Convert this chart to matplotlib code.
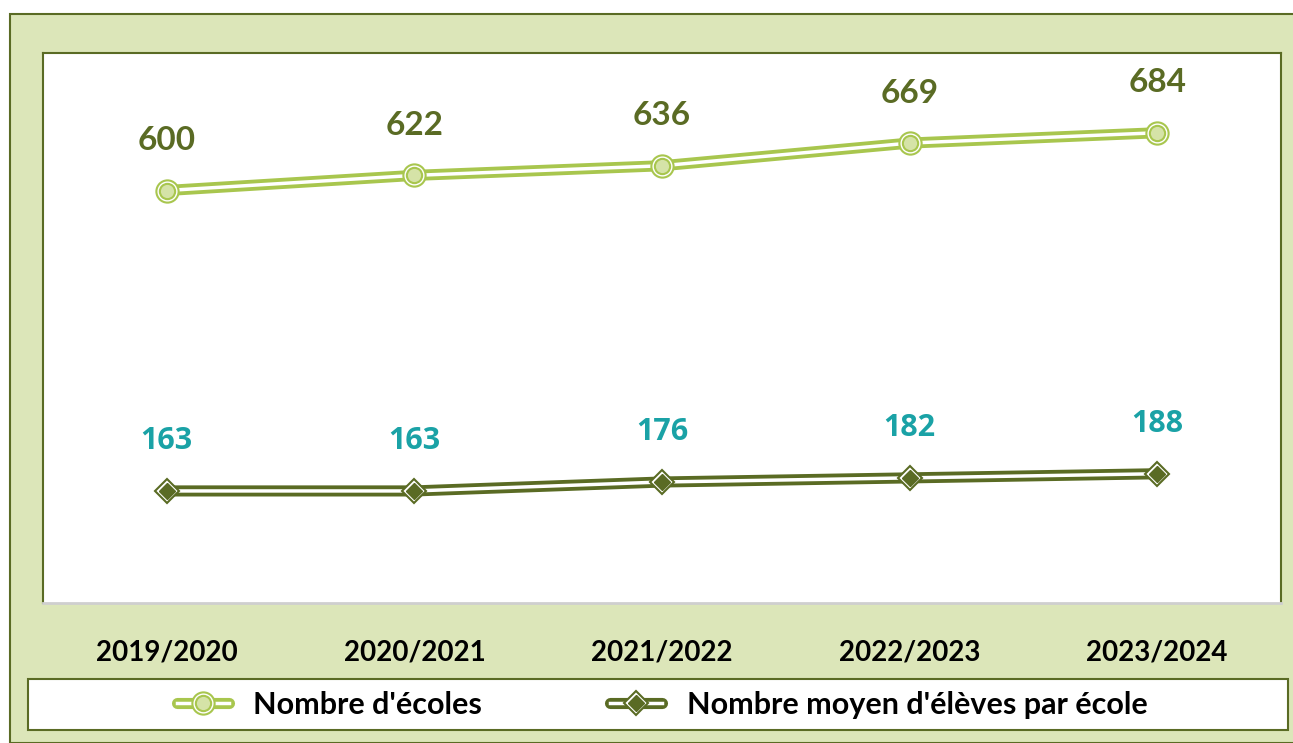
import matplotlib
matplotlib.use('Agg')
import matplotlib.pyplot as plt
from matplotlib.patches import Rectangle
from matplotlib.lines import Line2D

W, H = 1293, 743
OLIVE = '#5a6b24'
LIGHT = '#a8c64e'
LIGHT_FILL = '#d5e3a7'
PANEL = '#dce6b9'
TEAL = '#1aa2a6'

years = ['2019/2020', '2020/2021', '2021/2022', '2022/2023', '2023/2024']
nb_ecoles = [600, 622, 636, 669, 684]
nb_eleves = [163, 163, 176, 182, 188]
label_ecoles = "Nombre d'écoles"
label_eleves = "Nombre moyen d'élèves par école"

fig = plt.figure(figsize=(W / 100, H / 100), dpi=100)
fig.patch.set_facecolor('white')

# outer green panel
fig.patches.append(Rectangle((10 / W, 0), 1.0, 1 - 14 / H, transform=fig.transFigure,
                             facecolor=PANEL, edgecolor=OLIVE, lw=1.5, zorder=-3))
# legend box
fig.patches.append(Rectangle((28 / W, 1 - 730 / H), 1260 / W, 51 / H, transform=fig.transFigure,
                             facecolor='white', edgecolor=OLIVE, lw=1.5, zorder=-2))

ax = fig.add_axes([43 / W, 1 - 603 / H, 1238 / W, 550 / H])
ax.set_facecolor('white')
x = list(range(len(years)))

# double line for "Nombre d'écoles"
ax.plot(x, nb_ecoles, color=LIGHT, lw=8, solid_capstyle='butt', zorder=3)
ax.plot(x, nb_ecoles, color='white', lw=2.5, zorder=4)
ax.plot(x, nb_ecoles, ls='none', marker='o', ms=16, mfc='white', mec=LIGHT, mew=1.5, zorder=5)
ax.plot(x, nb_ecoles, ls='none', marker='o', ms=11, mfc=LIGHT_FILL, mec=LIGHT, mew=1.5, zorder=6)

# double line for "Nombre moyen d'élèves"
ax.plot(x, nb_eleves, color=OLIVE, lw=8, solid_capstyle='butt', zorder=3)
ax.plot(x, nb_eleves, color='white', lw=2.5, zorder=4)
ax.plot(x, nb_eleves, ls='none', marker='D', ms=12, mfc='white', mec=OLIVE, mew=1.5, zorder=5)
ax.plot(x, nb_eleves, ls='none', marker='D', ms=8, mfc=OLIVE, mec=OLIVE, mew=1, zorder=6)

for xi, v in zip(x, nb_ecoles):
    ax.annotate(str(v), (xi, v), xytext=(0, 36), textcoords='offset points', ha='center',
                va='center', fontsize=24, fontweight='bold', family='Lato', color=OLIVE)
for xi, v in zip(x, nb_eleves):
    ax.annotate(str(v), (xi, v), xytext=(0, 36), textcoords='offset points', ha='center',
                va='center', fontsize=22, fontweight='bold', family='Open Sans', color=TEAL)

ax.set_xlim(-0.5, len(years) - 0.5)
ax.set_ylim(0, 800)
ax.set_yticks([])
ax.set_xticks(x)
ax.set_xticklabels(years, fontsize=20, fontweight='bold', family='Lato', color='black')
ax.tick_params(axis='x', length=0, pad=26)
for side in ['top', 'left', 'right']:
    ax.spines[side].set_color(OLIVE)
    ax.spines[side].set_linewidth(1.5)
ax.spines['bottom'].set_color('#cfcfcf')
ax.spines['bottom'].set_linewidth(2)

h1 = (Line2D([], [], color=LIGHT, lw=8, solid_capstyle='round'),
      Line2D([], [], color='white', lw=2.5),
      Line2D([], [], ls='none', marker='o', ms=16, mfc='white', mec=LIGHT, mew=1.5),
      Line2D([], [], ls='none', marker='o', ms=11, mfc=LIGHT_FILL, mec=LIGHT, mew=1.5))
h2 = (Line2D([], [], color=OLIVE, lw=8, solid_capstyle='round'),
      Line2D([], [], color='white', lw=2.5),
      Line2D([], [], ls='none', marker='D', ms=12, mfc='white', mec=OLIVE, mew=1.5),
      Line2D([], [], ls='none', marker='D', ms=8, mfc=OLIVE, mec=OLIVE, mew=1))
leg = fig.legend([h1, h2], [label_ecoles, label_eleves], loc='center',
                 bbox_to_anchor=(662 / W, 1 - 705 / H), ncol=2, frameon=False,
                 prop={'family': 'Lato', 'weight': 'bold', 'size': 22},
                 handlelength=1.7, handletextpad=0.8, columnspacing=4.2)

fig.savefig('out.png', dpi=100, facecolor='white')
